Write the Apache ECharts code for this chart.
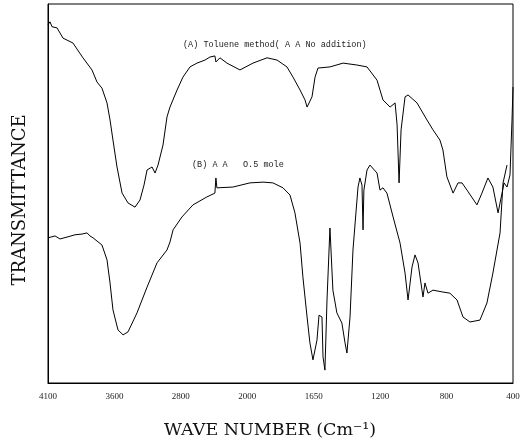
<!DOCTYPE html>
<html>
<head>
<meta charset="utf-8">
<script src="https://cdn.jsdelivr.net/npm/echarts@6/dist/echarts.min.js"></script>
<style>html,body{margin:0;padding:0;background:#fff}#c{width:524px;height:444px}</style>
</head>
<body>
<div id="c"></div>
<script>
// x tick labels (wave number, cm-1), evenly spaced on the chart
const tickLabels = [4100, 3600, 2800, 2000, 1650, 1200, 800, 400];

// (A) curve: wave number
const waveA = [4100,4085,4070,4032,3987,3912,3837,3769,3731,3694,3656,3633,3611,3569,3508,3436,3352,3328,3292,3244,3207,3147,3111,3075,3015,2967,2931,2846,2775,2690,2606,2510,2450,2390,2378,2329,2245,2088,1970,1896,1843,1791,1759,1722,1696,1685,1659,1641,1621,1540,1451,1357,1289,1221,1183,1140,1110,1098,1086,1074,1050,1032,978,918,882,840,822,798,761,731,707,677,617,587,551,521,490,466,454,436,418,406,400];
// (A) curve: transmittance (arbitrary %)
const transA = [94.5,95.3,94.0,93.7,91.0,89.7,85.8,82.6,79.4,77.8,73.9,69.4,64.1,57.0,50.1,47.5,46.4,45.9,48.3,52.2,56.2,57.0,55.4,57.5,62.8,70.2,72.8,77.3,80.7,83.4,84.4,85.2,86.0,86.3,84.7,85.8,84.4,82.6,84.4,85.8,85.2,83.4,80.7,77.3,74.7,72.8,75.5,80.7,83.1,83.4,84.4,83.9,83.4,79.9,74.7,72.8,73.9,68.1,52.8,66.8,75.5,76.0,73.9,69.4,66.8,64.1,61.5,54.4,50.1,52.8,52.8,50.9,47.0,50.1,54.1,51.7,44.9,50.1,52.8,51.7,54.9,69.4,78.1];

// (B) curve: wave number
const waveB = [4100,4047,4010,3957,3897,3844,3806,3784,3761,3694,3656,3633,3611,3557,3496,3436,3328,3207,3087,2967,2931,2894,2787,2654,2486,2390,2378,2366,2173,1986,1917,1865,1812,1775,1749,1722,1707,1685,1670,1654,1628,1614,1594,1587,1574,1560,1540,1520,1493,1459,1438,1425,1404,1384,1350,1337,1323,1316,1310,1289,1269,1221,1201,1183,1159,1122,1080,1050,1032,1008,990,972,948,942,930,912,882,822,780,737,701,659,599,557,521,478,460,436];
// (B) curve: transmittance (arbitrary %)
const transB = [38.3,38.8,38.0,38.5,39.1,39.3,39.6,38.8,38.3,36.4,32.5,26.4,19.3,14.0,12.7,13.5,18.5,25.3,31.7,35.1,37.2,40.4,43.8,47.0,49.1,50.1,54.1,51.5,51.7,52.8,53.0,52.8,51.5,49.6,44.9,36.9,28.0,17.4,10.6,6.1,11.3,17.9,17.4,6.9,3.4,21.9,40.9,24.5,18.5,15.8,10.6,7.9,17.4,35.1,51.7,54.1,52.2,40.4,50.9,56.2,57.5,55.4,50.9,51.5,50.1,43.8,36.9,29.0,21.9,30.6,33.8,31.7,24.5,22.7,26.4,23.7,24.5,24.0,23.7,21.9,17.4,16.1,16.6,21.1,29.0,39.6,52.8,57.5];

const labelA = "(A) Toluene method( A A No addition)";
const labelB = "(B) A A   O.5 mole";

// map a wave number onto the chart's piecewise axis (tick label index units)
function toSlot(w) {
  for (let i = 0; i < tickLabels.length - 1; i++) {
    const a = tickLabels[i], b = tickLabels[i + 1];
    if (w <= a && w >= b) return i + (a - w) / (a - b);
  }
  return w > tickLabels[0] ? 0 : tickLabels.length - 1;
}
const dataA = waveA.map((w, i) => [toSlot(w), transA[i]]);
const dataB = waveB.map((w, i) => [toSlot(w), transB[i]]);

const chart = echarts.init(document.getElementById('c'), null, {renderer: 'canvas'});
chart.setOption({
  animation: false,
  backgroundColor: '#fff',
  grid: {left: 48, right: 11, top: 4, bottom: 61, show: true, borderColor: '#000', borderWidth: 1, backgroundColor: 'transparent'},
  xAxis: {
    type: 'value', min: 0, max: tickLabels.length - 1, interval: 1,
    axisLine: {show: true, lineStyle: {color: '#000', width: 1}},
    axisTick: {show: false},
    splitLine: {show: false},
    axisLabel: {
      margin: 9, color: '#222', fontFamily: 'Liberation Serif', fontSize: 9,
      formatter: v => tickLabels[Math.round(v)] !== undefined ? String(tickLabels[Math.round(v)]) : ''
    }
  },
  yAxis: {
    type: 'value', min: 0, max: 100,
    axisLine: {show: true, lineStyle: {color: '#000', width: 1}},
    axisTick: {show: false}, axisLabel: {show: false}, splitLine: {show: false}
  },
  series: [
    {type: 'line', data: dataA, showSymbol: false, lineStyle: {color: '#000', width: 1}, z: 3},
    {type: 'line', data: dataB, showSymbol: false, lineStyle: {color: '#000', width: 1}, z: 3}
  ],
  graphic: [
    {type: 'text', left: 183, top: 40, style: {text: labelA, fontFamily: 'Liberation Mono', fontSize: 8.5, fill: '#222'}},
    {type: 'text', left: 192, top: 160, style: {text: labelB, fontFamily: 'Liberation Mono', fontSize: 8.5, fill: '#222'}},
    {type: 'text', x: 270, y: 430, style: {text: 'WAVE NUMBER (Cm\u207B\u00B9)', fontFamily: 'DejaVu Serif', fontSize: 17.5, fill: '#111', align: 'center', verticalAlign: 'middle'}},
    {type: 'text', x: 20, y: 200, rotation: Math.PI / 2, style: {text: 'TRANSMITTANCE', fontFamily: 'DejaVu Serif', fontSize: 18, fill: '#111', align: 'center', verticalAlign: 'middle'}}
  ]
});
</script>
</body>
</html>
